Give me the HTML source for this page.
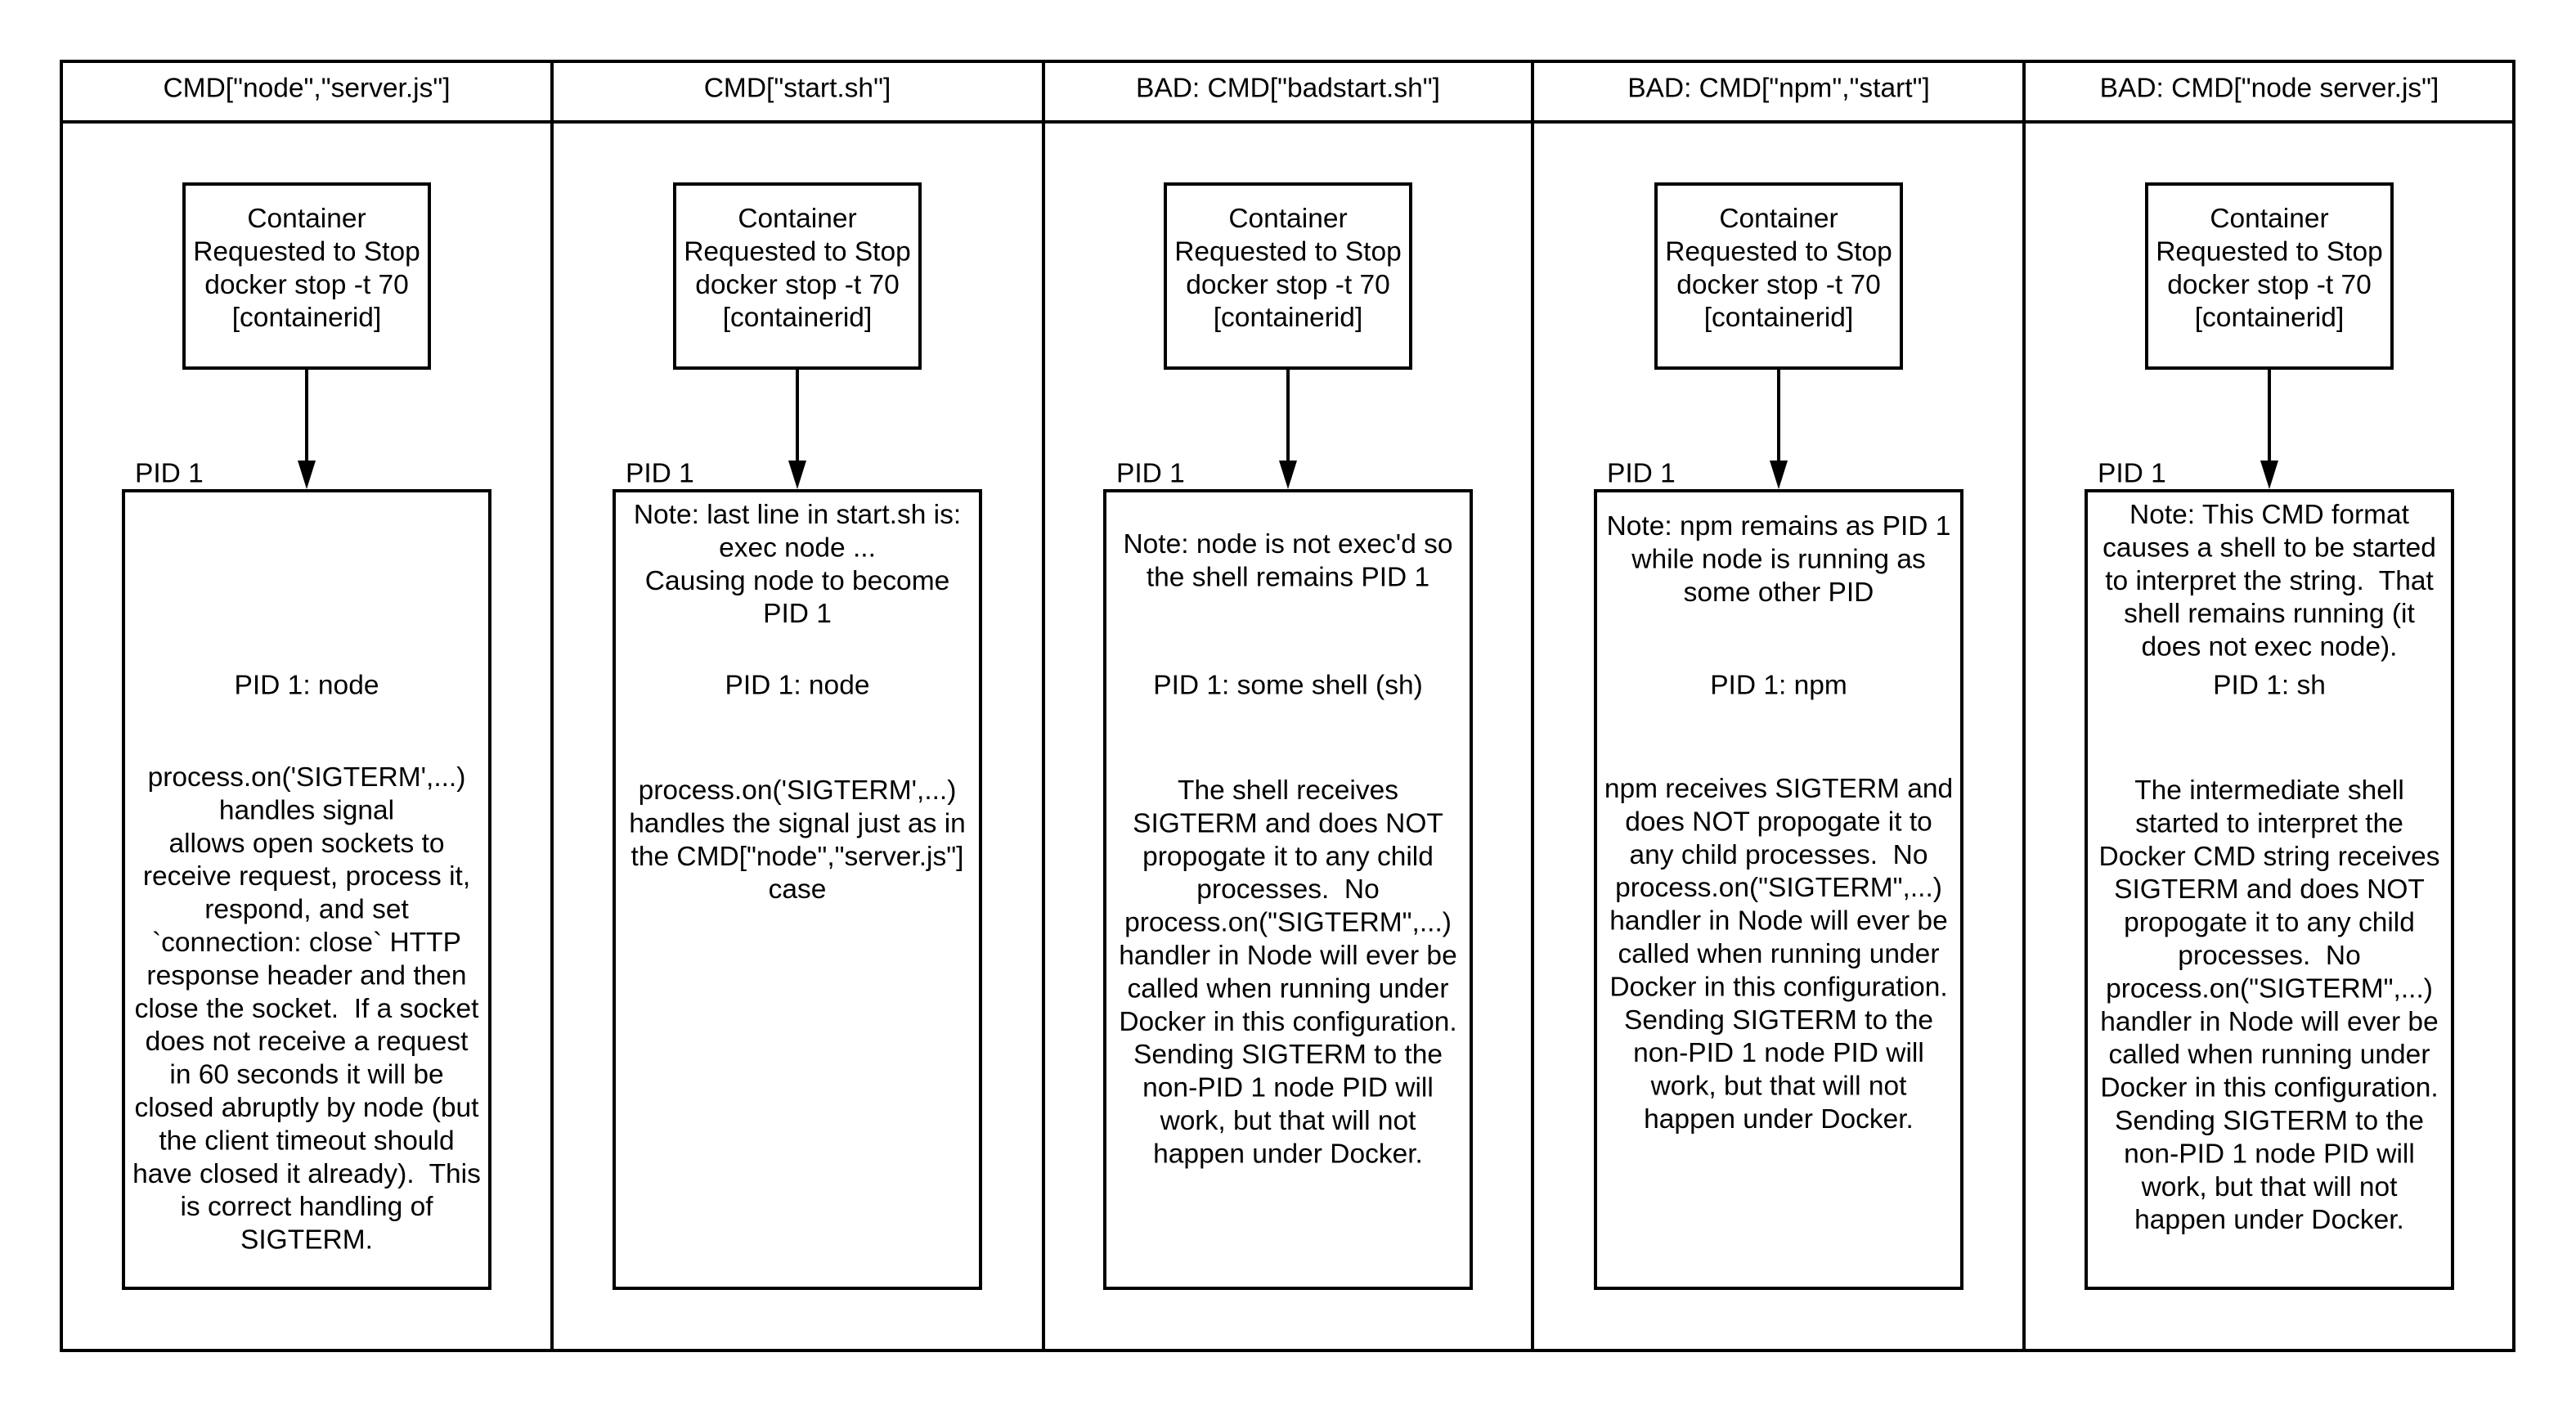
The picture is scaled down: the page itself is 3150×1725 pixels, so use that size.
<!DOCTYPE html>
<html><head><meta charset="utf-8"><style>
html,body{margin:0;padding:0;background:#fff;width:3150px;height:1725px;overflow:hidden}
svg{display:block}
text{font-family:"Liberation Sans",Arial,sans-serif;font-size:33.5px;fill:#000;white-space:pre}
</style></head><body>
<svg width="3150" height="1725" viewBox="0 0 3150 1725" xmlns="http://www.w3.org/2000/svg">
<g fill="none" stroke="#000" stroke-width="4">
<rect x="75" y="75" width="2999" height="1576"/>
<line x1="75" y1="149" x2="3074" y2="149"/>
<line x1="675" y1="75" x2="675" y2="1651"/>
<line x1="1276" y1="75" x2="1276" y2="1651"/>
<line x1="1874" y1="75" x2="1874" y2="1651"/>
<line x1="2475" y1="75" x2="2475" y2="1651"/>
</g>
<g fill="none" stroke="#000" stroke-width="4">
<rect x="225" y="225" width="300" height="225"/>
<rect x="825" y="225" width="300" height="225"/>
<rect x="1425" y="225" width="300" height="225"/>
<rect x="2025" y="225" width="300" height="225"/>
<rect x="2625" y="225" width="300" height="225"/>
<rect x="151" y="600" width="448" height="975"/>
<rect x="751" y="600" width="448" height="975"/>
<rect x="1351" y="600" width="448" height="975"/>
<rect x="1951" y="600" width="448" height="975"/>
<rect x="2551" y="600" width="448" height="975"/>
<line x1="375" y1="450" x2="375" y2="566"/>
<line x1="975" y1="450" x2="975" y2="566"/>
<line x1="1575" y1="450" x2="1575" y2="566"/>
<line x1="2175" y1="450" x2="2175" y2="566"/>
<line x1="2775" y1="450" x2="2775" y2="566"/>
</g>
<g fill="#000">
<polygon points="364,563 386,563 375,598"/>
<polygon points="964,563 986,563 975,598"/>
<polygon points="1564,563 1586,563 1575,598"/>
<polygon points="2164,563 2186,563 2175,598"/>
<polygon points="2764,563 2786,563 2775,598"/>
</g>
<g text-anchor="middle" dominant-baseline="central">
<text x="375" y="108">CMD["node","server.js"]</text>
<text x="975" y="108">CMD["start.sh"]</text>
<text x="1575" y="108">BAD: CMD["badstart.sh"]</text>
<text x="2175" y="108">BAD: CMD["npm","start"]</text>
<text x="2775" y="108">BAD: CMD["node server.js"]</text>

<text x="375" y="267"><tspan x="375">Container</tspan><tspan x="375" dy="40.4">Requested to Stop</tspan><tspan x="375" dy="40.4">docker stop -t 70</tspan><tspan x="375" dy="40.4">[containerid]</tspan></text>
<text x="975" y="267"><tspan x="975">Container</tspan><tspan x="975" dy="40.4">Requested to Stop</tspan><tspan x="975" dy="40.4">docker stop -t 70</tspan><tspan x="975" dy="40.4">[containerid]</tspan></text>
<text x="1575" y="267"><tspan x="1575">Container</tspan><tspan x="1575" dy="40.4">Requested to Stop</tspan><tspan x="1575" dy="40.4">docker stop -t 70</tspan><tspan x="1575" dy="40.4">[containerid]</tspan></text>
<text x="2175" y="267"><tspan x="2175">Container</tspan><tspan x="2175" dy="40.4">Requested to Stop</tspan><tspan x="2175" dy="40.4">docker stop -t 70</tspan><tspan x="2175" dy="40.4">[containerid]</tspan></text>
<text x="2775" y="267"><tspan x="2775">Container</tspan><tspan x="2775" dy="40.4">Requested to Stop</tspan><tspan x="2775" dy="40.4">docker stop -t 70</tspan><tspan x="2775" dy="40.4">[containerid]</tspan></text>

<text x="375" y="838">PID 1: node</text>
<text x="975" y="838">PID 1: node</text>
<text x="1575" y="838">PID 1: some shell (sh)</text>
<text x="2175" y="838">PID 1: npm</text>
<text x="2775" y="838">PID 1: sh</text>

<text x="375" y="950"><tspan x="375">process.on('SIGTERM',...)</tspan><tspan x="375" dy="40.4">handles signal</tspan><tspan x="375" dy="40.4">allows open sockets to</tspan><tspan x="375" dy="40.4">receive request, process it,</tspan><tspan x="375" dy="40.4">respond, and set</tspan><tspan x="375" dy="40.4">`connection: close` HTTP</tspan><tspan x="375" dy="40.4">response header and then</tspan><tspan x="375" dy="40.4">close the socket.  If a socket</tspan><tspan x="375" dy="40.4">does not receive a request</tspan><tspan x="375" dy="40.4">in 60 seconds it will be</tspan><tspan x="375" dy="40.4">closed abruptly by node (but</tspan><tspan x="375" dy="40.4">the client timeout should</tspan><tspan x="375" dy="40.4">have closed it already).  This</tspan><tspan x="375" dy="40.4">is correct handling of</tspan><tspan x="375" dy="40.4">SIGTERM.</tspan></text>

<text x="975" y="629"><tspan x="975">Note: last line in start.sh is:</tspan><tspan x="975" dy="40.4">exec node ...</tspan><tspan x="975" dy="40.4">Causing node to become</tspan><tspan x="975" dy="40.4">PID 1</tspan></text>
<text x="975" y="966"><tspan x="975">process.on('SIGTERM',...)</tspan><tspan x="975" dy="40.4">handles the signal just as in</tspan><tspan x="975" dy="40.4">the CMD["node","server.js"]</tspan><tspan x="975" dy="40.4">case</tspan></text>

<text x="1575" y="665"><tspan x="1575">Note: node is not exec'd so</tspan><tspan x="1575" dy="40.4">the shell remains PID 1</tspan></text>
<text x="1575" y="966"><tspan x="1575">The shell receives</tspan><tspan x="1575" dy="40.4">SIGTERM and does NOT</tspan><tspan x="1575" dy="40.4">propogate it to any child</tspan><tspan x="1575" dy="40.4">processes.  No</tspan><tspan x="1575" dy="40.4">process.on("SIGTERM",...)</tspan><tspan x="1575" dy="40.4">handler in Node will ever be</tspan><tspan x="1575" dy="40.4">called when running under</tspan><tspan x="1575" dy="40.4">Docker in this configuration.</tspan><tspan x="1575" dy="40.4">Sending SIGTERM to the</tspan><tspan x="1575" dy="40.4">non-PID 1 node PID will</tspan><tspan x="1575" dy="40.4">work, but that will not</tspan><tspan x="1575" dy="40.4">happen under Docker.</tspan></text>

<text x="2175" y="643"><tspan x="2175">Note: npm remains as PID 1</tspan><tspan x="2175" dy="40.4">while node is running as</tspan><tspan x="2175" dy="40.4">some other PID</tspan></text>
<text x="2175" y="964"><tspan x="2175">npm receives SIGTERM and</tspan><tspan x="2175" dy="40.4">does NOT propogate it to</tspan><tspan x="2175" dy="40.4">any child processes.  No</tspan><tspan x="2175" dy="40.4">process.on("SIGTERM",...)</tspan><tspan x="2175" dy="40.4">handler in Node will ever be</tspan><tspan x="2175" dy="40.4">called when running under</tspan><tspan x="2175" dy="40.4">Docker in this configuration.</tspan><tspan x="2175" dy="40.4">Sending SIGTERM to the</tspan><tspan x="2175" dy="40.4">non-PID 1 node PID will</tspan><tspan x="2175" dy="40.4">work, but that will not</tspan><tspan x="2175" dy="40.4">happen under Docker.</tspan></text>

<text x="2775" y="629"><tspan x="2775">Note: This CMD format</tspan><tspan x="2775" dy="40.4">causes a shell to be started</tspan><tspan x="2775" dy="40.4">to interpret the string.  That</tspan><tspan x="2775" dy="40.4">shell remains running (it</tspan><tspan x="2775" dy="40.4">does not exec node).</tspan></text>
<text x="2775" y="966"><tspan x="2775">The intermediate shell</tspan><tspan x="2775" dy="40.4">started to interpret the</tspan><tspan x="2775" dy="40.4">Docker CMD string receives</tspan><tspan x="2775" dy="40.4">SIGTERM and does NOT</tspan><tspan x="2775" dy="40.4">propogate it to any child</tspan><tspan x="2775" dy="40.4">processes.  No</tspan><tspan x="2775" dy="40.4">process.on("SIGTERM",...)</tspan><tspan x="2775" dy="40.4">handler in Node will ever be</tspan><tspan x="2775" dy="40.4">called when running under</tspan><tspan x="2775" dy="40.4">Docker in this configuration.</tspan><tspan x="2775" dy="40.4">Sending SIGTERM to the</tspan><tspan x="2775" dy="40.4">non-PID 1 node PID will</tspan><tspan x="2775" dy="40.4">work, but that will not</tspan><tspan x="2775" dy="40.4">happen under Docker.</tspan></text>
</g>
<g dominant-baseline="central">
<text x="165" y="579">PID 1</text>
<text x="765" y="579">PID 1</text>
<text x="1365" y="579">PID 1</text>
<text x="1965" y="579">PID 1</text>
<text x="2565" y="579">PID 1</text>
</g>
</svg>
</body></html>
